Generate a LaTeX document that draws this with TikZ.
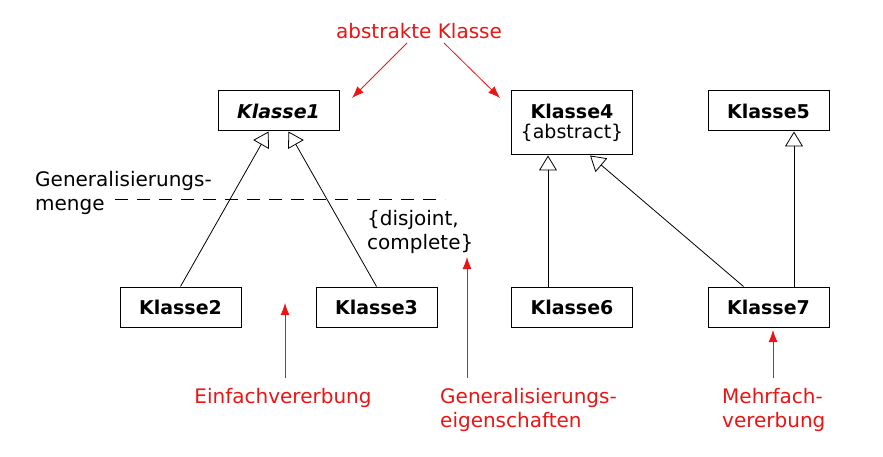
\documentclass[tikz,border=0pt]{standalone}
\usepackage{fontspec}
\setmainfont{DejaVu Sans}
\usetikzlibrary{arrows.meta,calc}
\definecolor{umlred}{RGB}{235,20,20}
\tikzset{
  cls/.style={draw, line width=1pt, minimum width=121pt, minimum height=40pt, inner sep=0pt, font=\fontsize{19}{22}\selectfont\bfseries},
  gen/.style={line width=0.8pt, -{Triangle[open, length=15pt, width=18pt, line width=0.8pt]}},
  lbl/.style={font=\fontsize{20}{24}\selectfont, inner sep=0pt, align=left},
  rlbl/.style={lbl, text=umlred},
  rarr/.style={draw=umlred, line width=0.8pt, -{Latex[length=12pt, width=9pt]}}
}
\begin{document}
\begin{tikzpicture}[x=1pt,y=-1pt]
\useasboundingbox (0,0) rectangle (883,457);
\node[cls] (k1) at (278.5,111) {\textit{Klasse1}};
\node[cls, minimum height=64pt, align=center] (k4) at (572,123) {Klasse4\\[-2pt]\mdseries\{abstract\}};
\node[cls] (k5) at (768.5,111) {Klasse5};
\node[cls] (k2) at (180.5,307) {Klasse2};
\node[cls] (k3) at (376.5,307) {Klasse3};
\node[cls] (k6) at (572,307) {Klasse6};
\node[cls] (k7) at (768.5,307) {Klasse7};

\draw[gen] (k2.north) -- ($(k1.south)+(-10,0)$);
\draw[gen] (k3.north) -- ($(k1.south)+(10,0)$);
\draw[gen] ($(k6.north)+(-24,0)$) -- ($(k4.south)+(-24,0)$);
\draw[gen] ($(k7.north)+(-25,0)$) -- ($(k4.south)+(18,0)$);
\draw[gen] ($(k7.north)+(25.5,0)$) -- ($(k5.south)+(25.5,0)$);

\coordinate (d1) at (115,199);
\coordinate (d2) at (445,199);
\draw[line width=0.8pt, dash pattern=on 13pt off 9pt] (d1) -- (d2);
\node[lbl, anchor=north west] (gm) at (35,171) {Generalisierungs-\\menge};
\node[lbl, anchor=north west] (dc) at (367,210) {\{disjoint,\\complete\}};

\node[rlbl] (ak) at (419,31) {abstrakte Klasse};
\coordinate (a1s) at (407,43);
\coordinate (a1e) at (352,98);
\coordinate (a2s) at (444,43);
\coordinate (a2e) at (500,98);
\draw[rarr] (a1s) -- (a1e);
\draw[rarr] (a2s) -- (a2e);

\node[rlbl, anchor=north] (ev) at (283,388) {Einfachvererbung};
\coordinate (evt) at (285,303);
\draw[rarr] (285,378) coordinate (evs) -- (evt);

\node[rlbl, anchor=north west] (ge) at (440,388) {Generalisierungs-\\eigenschaften};
\coordinate (get) at (467,257);
\draw[rarr] (467,378) coordinate (ges) -- (get);

\node[rlbl, anchor=north west] (mv) at (722,388) {Mehrfach-\\vererbung};
\coordinate (mvt) at (773,330);
\draw[rarr] (773,378) coordinate (mvs) -- (mvt);
\end{tikzpicture}
\end{document}
